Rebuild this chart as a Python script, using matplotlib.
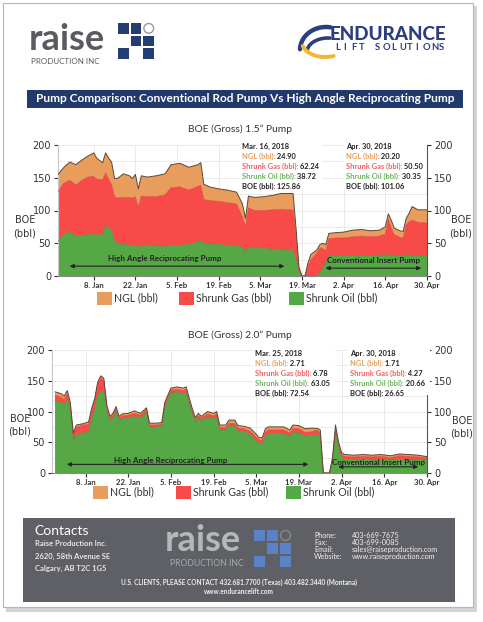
import numpy as np
import pandas as pd
import matplotlib
matplotlib.use('Agg')
import matplotlib.pyplot as plt
import matplotlib.dates as mdates
from matplotlib.patches import Rectangle, Circle
from matplotlib.ticker import FuncFormatter, MultipleLocator

plt.rcParams['font.family'] = ['Lato', 'DejaVu Sans']

# ---- 1.5" pump (daily BOE, bbl) ----
c1_dates = ['2017-12-27', '2017-12-29', '2017-12-31', '2018-01-02', '2018-01-04', '2018-01-06', '2018-01-08',
            '2018-01-09', '2018-01-11', '2018-01-12', '2018-01-13', '2018-01-14', '2018-01-15', '2018-01-16',
            '2018-01-18', '2018-01-20', '2018-01-21', '2018-01-22', '2018-01-23', '2018-01-24', '2018-01-26',
            '2018-01-29', '2018-02-01', '2018-02-03', '2018-02-06', '2018-02-09', '2018-02-12', '2018-02-13',
            '2018-02-14', '2018-02-16', '2018-02-19', '2018-02-22', '2018-02-25', '2018-02-27', '2018-02-28',
            '2018-03-01', '2018-03-03', '2018-03-06', '2018-03-09', '2018-03-12', '2018-03-15', '2018-03-16',
            '2018-03-17', '2018-03-18', '2018-03-19', '2018-03-20', '2018-03-21', '2018-03-22', '2018-03-24',
            '2018-03-25', '2018-03-26', '2018-03-27', '2018-03-28', '2018-03-30', '2018-04-02', '2018-04-05',
            '2018-04-08', '2018-04-11', '2018-04-14', '2018-04-16', '2018-04-17', '2018-04-18', '2018-04-19',
            '2018-04-21', '2018-04-22', '2018-04-23', '2018-04-24', '2018-04-25', '2018-04-27', '2018-04-30']
c1_oil = [53, 64, 67, 61, 62, 63, 63, 63, 63, 77,
          73, 70, 53, 50, 48, 47, 47, 47, 44, 47,
          47, 46, 45, 47, 47, 48, 52, 54, 50, 49,
          48, 47, 46, 44, 37, 44, 43, 42, 41, 40,
          39, 38.72, 25, 5, 0, 0, 0, 0, 0, 5,
          12, 20, 30, 31, 31, 32, 31, 31, 32, 32,
          32, 32, 32, 31, 31, 32, 32, 32, 31, 30.35]
c1_gas = [76, 78, 79, 78, 84, 88, 89, 85, 84, 80,
          75, 70, 68, 69, 72, 73, 72, 74, 61, 75,
          74, 75, 79, 88, 89, 83, 85, 84, 67, 66,
          66, 65, 64, 46, 38, 60, 57, 58, 60, 62,
          62, 62.24, 35, 5, 0, 0, 15, 25, 35, 38,
          30, 18, 27, 27, 27, 28, 30, 29, 29, 32,
          55, 41, 31, 28, 27, 46, 51, 53, 51, 50.50]
c1_ngl = [26, 24, 28, 31, 31, 32, 36, 32, 26, 31,
          32, 34, 28, 30, 36, 33, 30, 34, 28, 31,
          30, 32, 32, 35, 36, 35, 33, 35, 23, 21,
          19, 19, 18, 20, 13, 18, 20, 21, 22, 24,
          25, 24.90, 12, 3, 0, 0, 5, 8, 5, 5,
          8, 10, 8, 8, 9, 10, 10, 9, 9, 11,
          8, 12, 10, 10, 10, 10, 13, 21, 19, 20.20]

# ---- 2.0" pump ----
c2_dates = ['2017-12-29', '2017-12-31', '2018-01-01', '2018-01-02', '2018-01-03', '2018-01-04', '2018-01-05',
            '2018-01-07', '2018-01-09', '2018-01-10', '2018-01-11', '2018-01-12', '2018-01-13', '2018-01-14',
            '2018-01-15', '2018-01-16', '2018-01-17', '2018-01-18', '2018-01-19', '2018-01-20', '2018-01-22',
            '2018-01-24', '2018-01-26', '2018-01-28', '2018-01-29', '2018-01-31', '2018-02-02', '2018-02-03',
            '2018-02-05', '2018-02-07', '2018-02-09', '2018-02-10', '2018-02-11', '2018-02-12', '2018-02-13',
            '2018-02-14', '2018-02-15', '2018-02-17', '2018-02-19', '2018-02-20', '2018-02-21', '2018-02-23',
            '2018-02-24', '2018-02-26', '2018-02-27', '2018-03-01', '2018-03-03', '2018-03-05', '2018-03-06',
            '2018-03-07', '2018-03-08', '2018-03-09', '2018-03-14', '2018-03-16', '2018-03-17', '2018-03-19',
            '2018-03-21', '2018-03-23', '2018-03-25', '2018-03-26', '2018-03-27', '2018-03-28', '2018-03-29',
            '2018-03-30', '2018-03-31', '2018-04-01', '2018-04-02', '2018-04-03', '2018-04-06', '2018-04-09',
            '2018-04-12', '2018-04-15', '2018-04-18', '2018-04-21', '2018-04-24', '2018-04-27', '2018-04-30']
c2_oil = [117, 115, 111, 120, 104, 52, 62, 65, 66, 88,
          102, 128, 133, 132, 99, 85, 89, 99, 86, 88,
          90, 92, 90, 98, 74, 75, 75, 106, 130, 131,
          129, 131, 114, 97, 83, 89, 85, 91, 88, 91,
          70, 70, 76, 76, 68, 67, 63, 52, 48, 49,
          60, 64, 64, 59, 66, 65, 60, 61, 63.05, 57,
          0, 0, 0, 18, 68, 40, 25, 22, 22, 22,
          21, 22, 21, 22, 21, 21, 20.66]
c2_gas = [10, 8, 8, 9, 5, 10, 12, 13, 13, 12,
          16, 17, 22, 18, 8, 4, 5, 5, 3, 5,
          4, 5, 4, 5, 4, 3, 4, 6, 5, 5,
          5, 5, 4, 4, 4, 4, 4, 5, 5, 5,
          4, 4, 5, 5, 5, 5, 5, 6, 5, 5,
          6, 6, 6, 6, 7, 7, 6, 6, 6.78, 7,
          0, 0, 0, 4, 6, 6, 5, 5, 4, 5,
          5, 5, 4, 6, 6, 5, 4.27]
c2_ngl = [5, 6, 6, 5, 6, 3, 4, 2, 4, 5,
          3, 3, 3, 4, 3, 3, 3, 4, 3, 3,
          3, 4, 3, 3, 3, 3, 3, 3, 3, 4,
          4, 4, 4, 4, 3, 4, 3, 4, 4, 4,
          4, 4, 5, 5, 4, 4, 5, 5, 4, 4,
          6, 5, 5, 5, 5, 5, 6, 6, 2.71, 6,
          0, 0, 0, 3, 4, 4, 3, 3, 3, 3,
          3, 3, 3, 3, 3, 3, 1.71]

tick_dates = pd.date_range('2018-01-08', '2018-04-30', freq='14D')

c1_notes = [('Mar. 16, 2018', ['24.90', '62.24', '38.72', '125.86']),
            ('Apr. 30, 2018', ['20.20', '50.50', '30.35', '101.06'])]
c2_notes = [('Mar. 25, 2018', ['2.71', '6.78', '63.05', '72.54']),
            ('Apr. 30, 2018', ['1.71', '4.27', '20.66', '26.65'])]

ORANGE = '#e89d5c'
RED = '#f94a4a'
GREEN = '#55a845'
NAVY = '#213a6b'

W, H = 483, 622
fig = plt.figure(figsize=(W / 100, H / 100), dpi=100)
bg = fig.add_axes([0, 0, 1, 1])
bg.set_xlim(0, W)
bg.set_ylim(H, 0)
bg.axis('off')

# page
bg.add_patch(Rectangle((6, 6), 471, 606, fc='#d4d4d4', ec='none'))
bg.add_patch(Rectangle((3, 3), 470, 604, fc='white', ec='#b5b5b5', lw=0.8))


def squares(x0, y0, cell, col, ring):
    for c, r in [(0, 0), (1, 0), (1, 1), (2, 1), (0, 2), (2, 2)]:
        bg.add_patch(Rectangle((x0 + c * cell, y0 + r * cell), cell - 2, cell - 2, fc=col, ec='none'))
    bg.add_patch(Circle((x0 + 2 * cell + (cell - 2) / 2, y0 + (cell - 2) / 2), (cell - 3) / 2,
                        fc=ring[0], ec=ring[1], lw=1))


# header logos
bg.text(29, 50, 'raise', fontsize=26, fontweight='bold', color='#5a5b5e', va='baseline')
bg.text(31, 58.5, 'PRODUCTION INC', fontsize=5.8, color='#5a5b5e', va='top')
squares(118, 23, 12.7, '#243d73', ('white', '#999999'))

t = np.linspace(np.radians(80), np.radians(178), 40)
bg.plot(326 + 26 * np.cos(t), 50 - 23 * np.sin(t), color='#2b3f7e', lw=3.2, solid_capstyle='round')
t = np.linspace(np.radians(85), np.radians(175), 40)
bg.plot(328 + 21 * np.cos(t), 52 - 14 * np.sin(t), color='#2b3f7e', lw=2.6, solid_capstyle='round')
t = np.linspace(np.radians(195), np.radians(292), 40)
bg.plot(325 + 23 * np.cos(t), 42 - 15 * np.sin(t), color='#f2b632', lw=2.8, solid_capstyle='round')
bg.text(330, 35, 'ENDURANCE', fontsize=13.6, fontweight='black', color='#2b3f7e', va='center')
for i, ch in enumerate('LIFT SOLUTIONS'):
    bg.text(335 + i * 8.0, 47, ch, fontsize=6.8, fontweight='bold', color='#2b3f7e', va='center', ha='left')

# banner
bg.add_patch(Rectangle((27, 90), 436, 18, fc=NAVY, ec='none'))
bg.text(245, 99, 'Pump Comparison: Conventional Rod Pump Vs High Angle Reciprocating Pump',
        fontsize=8.6, fontweight='bold', color='white', ha='center', va='center')


def px_axes(l, t, r, b):
    return fig.add_axes([l / W, 1 - b / H, (r - l) / W, (b - t) / H])


def fmt_date(v, pos):
    d = mdates.num2date(v)
    return f'{d.day}. {d:%b}'


def draw_chart(ax, dates, oil, gas, ngl, start):
    d = pd.to_datetime(dates)
    oil, gas, ngl = np.array(oil), np.array(gas), np.array(ngl)
    ax.stackplot(d, oil, gas, ngl, colors=[GREEN, RED, ORANGE], lw=0, zorder=2)
    ax.plot(d, oil, color='#3f8f36', lw=0.4, zorder=3)
    ax.plot(d, oil + gas, color='#d63838', lw=0.4, zorder=3)
    ax.plot(d, oil + gas + ngl, color='#5b4636', lw=0.7, zorder=3)
    ax.set_xlim(pd.Timestamp(start), pd.Timestamp('2018-04-30'))
    ax.set_ylim(0, 200)
    ax.yaxis.set_major_locator(MultipleLocator(50))
    ax.yaxis.set_minor_locator(MultipleLocator(25))
    ax.grid(which='both', axis='y', color='#e6e6e6', lw=0.6)
    ax.set_xticks(tick_dates)
    ax.xaxis.set_major_formatter(FuncFormatter(fmt_date))
    ax.grid(axis='x', color='#e6e6e6', lw=0.6)
    ax.set_axisbelow(True)
    ax.spines['top'].set_visible(False)
    ax.spines['left'].set_color('#c8c8c8')
    ax.spines['bottom'].set_color('#888888')
    ax.spines['right'].set_color('#555555')
    ax.tick_params(axis='y', which='major', left=True, right=True, labelleft=True, labelright=True,
                   length=3, labelsize=7, colors='#333333', pad=2, labelfontfamily='DejaVu Sans')
    ax.tick_params(axis='y', which='minor', length=0)
    ax.tick_params(axis='x', length=3, labelsize=5.6, colors='#333333', pad=1.5)
    for lab in ax.get_xticklabels():
        lab.set_fontweight('bold')


def arrow(ax, x0, x1, y, tx, ty, label):
    ax.annotate('', xy=(pd.Timestamp(x0), y), xytext=(pd.Timestamp(x1), y),
                arrowprops=dict(arrowstyle='<|-|>', color='#222222', lw=0.8, mutation_scale=6), zorder=4)
    ax.text(pd.Timestamp(tx), ty, label, fontsize=5.8, fontweight='bold', color='#222222',
            ha='center', va='center', zorder=4)


def note(ax, x, y0, date, vals):
    ax.add_patch(Rectangle((x - 2, y0 - 6), 82, 48, transform=bg.transData, fc='white', ec='none',
                           zorder=2.6, clip_on=False))
    labels = [('NGL (bbl):', '#e8a060'), ('Shrunk Gas (bbl):', '#f06262'),
              ('Shrunk Oil (bbl):', '#6cb35a'), ('BOE (bbl):', '#222222')]
    ax.text(x, y0, date, transform=bg.transData, fontsize=5.4, fontweight='bold', color='#222222',
            va='center', zorder=5)
    for i, ((lab, col), v) in enumerate(zip(labels, vals)):
        t = ax.text(x, y0 + (i + 1) * 10.2, lab, transform=bg.transData, fontsize=5.4,
                    fontweight='bold', color=col, va='center', zorder=5)
        ax.annotate(' ' + v, xy=(1, 0.5), xycoords=t, fontsize=5.4, fontweight='bold',
                    color='#222222', va='center', ha='left', zorder=5)


def legend(y, xs):
    items = [('NGL (bbl)', ORANGE), ('Shrunk Gas (bbl)', RED), ('Shrunk Oil (bbl)', GREEN)]
    for x, (lab, col) in zip(xs, items):
        bg.add_patch(Rectangle((x, y - 6.5), 15, 13, fc=col, ec='none'))
        bg.text(x + 17, y, lab, fontsize=7.6, color='#333333', va='center')


# ---- chart 1 ----
bg.text(240, 129, 'BOE (Gross) 1.5\u201d Pump', fontsize=7.4, color='#333333', ha='center', va='center')
ax1 = px_axes(58, 145, 427, 276)
draw_chart(ax1, c1_dates, c1_oil, c1_gas, c1_ngl, '2017-12-27')
arrow(ax1, '2017-12-30', '2018-03-14', 15, '2018-02-01', 26, 'High Angle Reciprocating Pump')
arrow(ax1, '2018-03-26', '2018-04-29', 12, '2018-04-12', 24, 'Conventional Insert Pump')
note(ax1, 241.5, 146, *c1_notes[0])
note(ax1, 346, 146, *c1_notes[1])
for x in (25, 461):
    bg.text(x, 220, 'BOE', fontsize=7, family='DejaVu Sans', color='#333333', ha='center', va='center')
    bg.text(x, 233, '(bbl)', fontsize=7, family='DejaVu Sans', color='#333333', ha='center', va='center')
legend(298, [97, 179, 289])

# ---- chart 2 ----
bg.text(240, 335, 'BOE (Gross) 2.0\u201d Pump', fontsize=7.4, color='#333333', ha='center', va='center')
ax2 = px_axes(52, 350, 427, 473)
draw_chart(ax2, c2_dates, c2_oil, c2_gas, c2_ngl, '2017-12-28')
arrow(ax2, '2018-01-01', '2018-03-23', 14, '2018-02-05', 21, 'High Angle Reciprocating Pump')
arrow(ax2, '2018-03-31', '2018-04-28', 10, '2018-04-14', 17, 'Conventional Insert Pump')
note(ax2, 255, 353, *c2_notes[0])
note(ax2, 350, 353, *c2_notes[1])
for x, y in ((20, 419), (462, 421)):
    bg.text(x, y, 'BOE', fontsize=7, family='DejaVu Sans', color='#333333', ha='center', va='center')
    bg.text(x, y + 13, '(bbl)', fontsize=7, family='DejaVu Sans', color='#333333', ha='center', va='center')
legend(492, [93, 176, 286])

# ---- footer ----
bg.add_patch(Rectangle((23, 518), 432, 84, fc='#5f6065', ec='none'))
bg.text(34, 531, 'Contacts', fontsize=10, color='white', va='center')
for i, s in enumerate(['Raise Production Inc.', '2620, 58th Avenue SE', 'Calgary, AB T2C 1G5']):
    bg.text(35, 544 + i * 12.2, s, fontsize=5.5, fontweight='bold', color='#e6e6e6', va='center')
bg.text(165, 551, 'raise', fontsize=26, fontweight='bold', color='#b6b7ba', va='baseline')
bg.text(170, 559.5, 'PRODUCTION INC', fontsize=6.2, color='#a9aaad', va='top')
squares(254, 530, 13, '#5b82c6', ('#5f6065', '#888888'))
contacts = [('Phone:', '403-669-7675'), ('Fax:', '403-699-0085'),
            ('Email:', 'sales@raiseproduction.com'), ('Website:', 'www.raiseproduction.com')]
for i, (k, v) in enumerate(contacts):
    bg.text(314, 535 + i * 7.3, k, fontsize=5.2, color='#f0f0f0', va='center')
    bg.text(352, 535 + i * 7.3, v, fontsize=5.2, color='#f0f0f0', va='center')
bg.text(239, 582, 'U.S. CLIENTS, PLEASE CONTACT 432.681.7700 (Texas) 403.482.3440 (Montana)',
        fontsize=4.7, fontweight='bold', color='#eeeeee', ha='center', va='center')
bg.text(239, 592, 'www.endurancelift.com', fontsize=4.7, fontweight='bold', color='#eeeeee',
        ha='center', va='center')

fig.savefig('out.png', dpi=100)
